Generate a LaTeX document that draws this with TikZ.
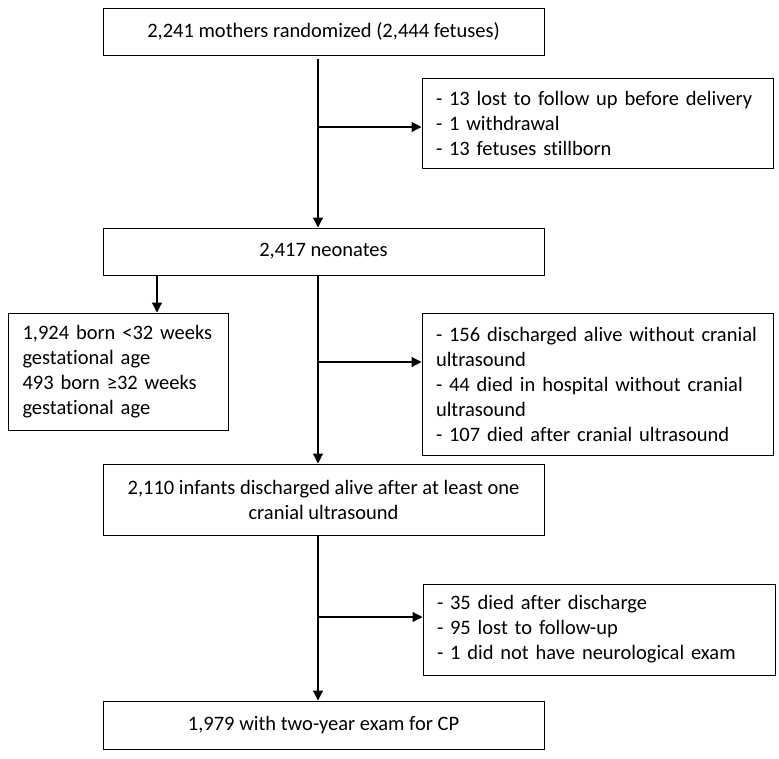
\documentclass[tikz,border=0pt]{standalone}
\usepackage{fontspec}
\setmainfont[Ligatures={NoCommon}]{Carlito}
\usepackage{tikz}
\usetikzlibrary{positioning,arrows.meta}

\begin{document}
\begin{tikzpicture}[x=1pt,y=-1pt,
                box/.style={rectangle,draw,line width=1pt,inner sep=0pt,
                  font=\fontsize{20.5}{25}\selectfont,align=center},
                side/.style={box,align=left,text width=#1},
                arr/.style={line width=1.2pt,-{Triangle[length=10pt,width=10pt]}}]
                \useasboundingbox (0,0) rectangle (779,758);
                \node[box,minimum width=441,minimum height=47] (mothers) at (323.5,31.5)
                    {2,241 mothers randomized (2,444 fetuses)};
                \node[box,minimum width=441,minimum height=47] (neonates) at (323.5,251.5)
                    {2,417 neonates};
                \node[box,minimum width=441,minimum height=71] (infants) at (323.5,499.5)
                    {2,110 infants discharged alive after at least one\\cranial ultrasound};
                \node[box,minimum width=441,minimum height=48] (exam) at (323.5,725)
                    {1,979 with two-year exam for CP};
                \node[side=323,minimum width=351,minimum height=90] (lost) at (597.5,123)
                    {- 13 lost to follow up before delivery\\- 1 withdrawal\\- 13 fetuses stillborn};
                \node[side=191,minimum width=220,minimum height=117] (born) at (118,371.5)
                    {1,924 born <32 weeks\\gestational age\\493 born ≥32 weeks\\gestational age};
                \node[side=323,minimum width=351,minimum height=142] (nocus) at (597.5,384)
                    {- 156 discharged alive without cranial\\ultrasound\\- 44 died in hospital without cranial\\ultrasound\\- 107 died after cranial ultrasound};
                \node[side=324,minimum width=352,minimum height=91] (died) at (599,629.5)
                    {- 35 died after discharge\\- 95 lost to follow-up\\- 1 did not have neurological exam};
                % spine and branch points
                \coordinate (spine) at (318,0);
                \coordinate (j1) at (318,127);
                \coordinate (j2) at (318,362);
                \coordinate (j3) at (318,617);
                \draw[arr,shorten <=3pt] (mothers.south -| spine) -- (neonates.north -| spine);
                \draw[arr] (neonates.south -| spine) -- (infants.north -| spine);
                \draw[arr] (infants.south -| spine) -- (exam.north -| spine);
                \draw[arr] (j1) -- (j1 -| lost.west);
                \draw[arr] (j2) -- (j2 -| nocus.west);
                \draw[arr] (j3) -- (j3 -| died.west);
                \draw[arr] (neonates.south -| 157,0) -- (born.north -| 157,0);
            \end{tikzpicture}
\end{document}
